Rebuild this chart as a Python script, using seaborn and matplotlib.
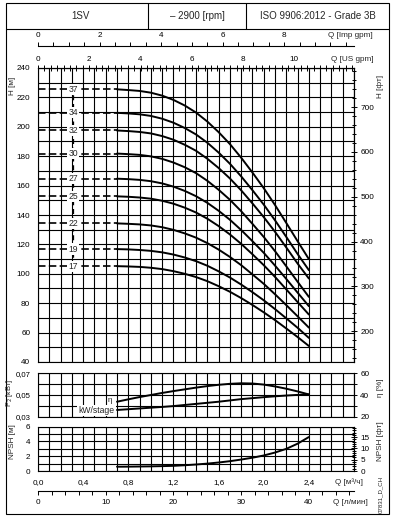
import matplotlib
matplotlib.use("Agg")
import matplotlib.pyplot as plt
import pandas as pd
import seaborn as sns
from matplotlib.lines import Line2D
from matplotlib.patches import Rectangle
from matplotlib.ticker import FixedLocator, FuncFormatter, MultipleLocator

# ---- data ----
FLOW_M3H = [0.7, 0.8, 0.9, 1.0, 1.1, 1.2, 1.3, 1.4, 1.5, 1.6, 1.7, 1.8, 1.9, 2.0, 2.1, 2.2, 2.3, 2.4]
STAGES = [37, 34, 32, 30, 27, 25, 22, 19, 17]
HEAD_SHUTOFF = [225.5, 209.5, 197.5, 181.8, 164.7, 152.7, 134.3, 116.8, 105.2]

HEAD_37 = [225.5, 225.0, 224.4, 223.2, 221.2, 218.3, 214.5, 209.7, 203.6,
           196.4, 188.3, 179.0, 168.9, 158.3, 146.8, 134.6, 122.2, 110.0]
HEAD_34 = [209.5, 209.1, 208.5, 207.4, 205.5, 202.8, 199.2, 194.8, 189.2,
           182.5, 174.9, 166.3, 156.9, 147.1, 136.4, 125.1, 113.5, 102.5]
HEAD_32 = [197.5, 197.1, 196.5, 195.5, 193.7, 191.2, 187.8, 183.7, 178.3,
           172.0, 164.9, 156.8, 147.9, 138.6, 128.6, 117.9, 107.0, 96.8]
HEAD_30 = [181.8, 181.4, 180.9, 179.9, 178.2, 175.7, 172.5, 168.5, 163.3,
           157.2, 150.4, 142.6, 134.0, 125.1, 115.4, 105.1, 94.6, 84.3]
HEAD_27 = [164.7, 164.4, 163.9, 163.0, 161.5, 159.3, 156.4, 152.8, 148.3,
           142.9, 136.8, 129.8, 122.2, 114.3, 105.6, 96.5, 87.2, 78.0]
HEAD_25 = [152.7, 152.4, 151.9, 151.1, 149.7, 147.7, 145.0, 141.7, 137.5,
           132.5, 126.8, 120.4, 113.3, 105.9, 97.9, 89.4, 80.8, 72.3]
HEAD_22 = [134.3, 134.0, 133.6, 132.9, 131.7, 129.9, 127.5, 124.6, 120.9,
           116.5, 111.5, 105.9, 99.6, 93.2, 86.1, 78.7, 71.1, 63.4]
HEAD_19 = [116.8, 116.6, 116.2, 115.6, 114.6, 113.1, 111.1, 108.6, 105.5,
           101.7, 97.5, 92.7, 87.5, 82.0, 76.0, 69.7, 63.3, 56.4]
HEAD_17 = [105.2, 105.0, 104.7, 104.1, 103.2, 101.8, 100.0, 97.8, 95.0,
           91.6, 87.8, 83.5, 78.8, 73.8, 68.5, 62.8, 57.0, 50.9]
HEADS = [HEAD_37, HEAD_34, HEAD_32, HEAD_30, HEAD_27, HEAD_25, HEAD_22, HEAD_19, HEAD_17]

EFFICIENCY = [33.8, 36.0, 38.1, 40.0, 41.9, 43.6, 45.2, 46.8, 48.2,
              49.4, 50.3, 50.8, 50.6, 49.6, 47.9, 45.8, 43.3, 40.5]
POWER_KW_STAGE = [0.0362, 0.0369, 0.0376, 0.0383, 0.0390, 0.0398, 0.0408, 0.0418, 0.0428,
                  0.0438, 0.0450, 0.0462, 0.0471, 0.0480, 0.0488, 0.0495, 0.0501, 0.0505]
NPSH_M = [0.58, 0.59, 0.61, 0.63, 0.66, 0.70, 0.78, 0.88, 1.00,
          1.15, 1.33, 1.55, 1.80, 2.10, 2.50, 3.00, 3.70, 4.60]

Q_TICKS = [0.0, 0.4, 0.8, 1.2, 1.6, 2.0, 2.4]
US_GPM_TICKS = [0, 2, 4, 6, 8, 10]
IMP_GPM_TICKS = [0, 2, 4, 6, 8]
LMIN_TICKS = [0, 10, 20, 30, 40]
H_FT_TICKS = [200, 300, 400, 500, 600, 700]
P_TICKS = [0.03, 0.05, 0.07]
ETA_TICKS = [20, 40, 60]
NPSH_TICKS = [0, 2, 4, 6]
NPSH_FT_TICKS = [0, 5, 10, 15]

M3H_TO_USGPM = 4.40287
M3H_TO_IMPGPM = 3.66615
M3H_TO_LMIN = 1000.0 / 60.0
M_TO_FT = 1.0 / 0.3048

# ---- layout ----
W, H = 395, 517
FS = 5.9
LABEL_Q = 0.31

sns.set_theme(style="white")
plt.rcParams["font.family"] = ["Liberation Sans", "DejaVu Sans"]
plt.rcParams["axes.edgecolor"] = "black"
plt.rcParams["axes.linewidth"] = 0.8
plt.rcParams["xtick.color"] = "black"
plt.rcParams["ytick.color"] = "black"

fig = plt.figure(figsize=(W / 100, H / 100), dpi=100)


def px_rect(x0, y0, x1, y1):
    return [x0 / W, 1 - y1 / H, (x1 - x0) / W, (y1 - y0) / H]


def fx(x):
    return x / W


def fy(y):
    return 1 - y / H


def comma(fmt):
    return FuncFormatter(lambda v, p: format(v, fmt).replace(".", ","))


# frame and header
fig.add_artist(Rectangle((fx(5.5), fy(513.5)), (389 - 5.5) / W, (513.5 - 3) / H,
                         transform=fig.transFigure, fill=False, ec="black", lw=0.8))
fig.add_artist(Line2D([fx(5.5), fx(389)], [fy(29), fy(29)], transform=fig.transFigure,
                      color="black", lw=0.8))
for xd in (148, 246):
    fig.add_artist(Line2D([fx(xd), fx(xd)], [fy(3), fy(29)], transform=fig.transFigure,
                          color="black", lw=0.8))
fig.text(fx(80), fy(16), "1SV", ha="center", va="center", fontsize=7)
fig.text(fx(197), fy(16), "– 2900 [rpm]", ha="center", va="center", fontsize=7)
fig.text(fx(317.5), fy(16), "ISO 9906:2012 - Grade 3B", ha="center", va="center", fontsize=7)

ax_h = fig.add_axes(px_rect(38, 68, 354, 362))
ax_p = fig.add_axes(px_rect(38, 373.3, 354, 416.7))
ax_n = fig.add_axes(px_rect(38, 426.7, 354, 471))

for ax in (ax_h, ax_p, ax_n):
    ax.set_xlim(0, 2.8)
    ax.xaxis.set_major_locator(FixedLocator(Q_TICKS))
    ax.xaxis.set_minor_locator(MultipleLocator(0.1))
    ax.set_axisbelow(True)
    ax.grid(which="both", color="black", lw=0.8)
    ax.tick_params(which="both", direction="inout", length=4, width=0.7, labelsize=FS, pad=3.5)
    ax.tick_params(axis="x", which="both", length=0)

# ---- head curves ----
df_head = pd.DataFrame(
    [(s, q, h) for s, hs in zip(STAGES, HEADS) for q, h in zip(FLOW_M3H, hs)],
    columns=["stages", "q", "h"],
)
sns.lineplot(data=df_head, x="q", y="h", units="stages", estimator=None, sort=False,
             color="black", lw=1.4, ax=ax_h)
ax_h.hlines(HEAD_SHUTOFF, 0, FLOW_M3H[0], colors="black", lw=1.2, linestyles=[(0, (4.5, 2))])
ax_h.vlines(LABEL_Q, min(HEAD_SHUTOFF), max(HEAD_SHUTOFF), colors="black", lw=0.9,
            linestyles=[(0, (4, 3))])
for s, h0 in zip(STAGES, HEAD_SHUTOFF):
    ax_h.text(LABEL_Q, h0, str(s), ha="center", va="center", fontsize=6.2,
              bbox=dict(facecolor="white", edgecolor="none", pad=0.8))
ax_h.set_ylim(40, 240)
ax_h.yaxis.set_major_locator(MultipleLocator(20))
ax_h.yaxis.set_minor_locator(MultipleLocator(10))
ax_h.tick_params(axis="x", labelbottom=False)
ax_h.set_xlabel("")
ax_h.set_ylabel("")

sec_hft = ax_h.secondary_yaxis("right", functions=(lambda m: m * M_TO_FT, lambda f: f / M_TO_FT))
sec_hft.yaxis.set_major_locator(FixedLocator(H_FT_TICKS))
sec_hft.yaxis.set_minor_locator(MultipleLocator(20))
sec_hft.tick_params(which="both", direction="inout", length=4, width=0.7, labelsize=FS, pad=2.5)
sec_hft.tick_params(which="minor", length=3)

sec_us = ax_h.secondary_xaxis("top", functions=(lambda q: q * M3H_TO_USGPM,
                                                lambda g: g / M3H_TO_USGPM))
sec_us.xaxis.set_major_locator(FixedLocator(US_GPM_TICKS))
sec_us.xaxis.set_minor_locator(MultipleLocator(0.25))
sec_us.tick_params(which="both", direction="inout", length=5, width=0.7, labelsize=FS, pad=1)
sec_us.tick_params(which="minor", length=4)

sec_imp = ax_h.secondary_xaxis(1.0765, functions=(lambda q: q * M3H_TO_IMPGPM,
                                                  lambda g: g / M3H_TO_IMPGPM))
sec_imp.xaxis.set_major_locator(FixedLocator(IMP_GPM_TICKS))
sec_imp.xaxis.set_minor_locator(MultipleLocator(0.5))
sec_imp.tick_params(which="both", direction="out", length=3, width=0.7, labelsize=FS, pad=2)
sec_imp.spines["top"].set_linewidth(0.8)

# ---- power / efficiency ----
df_perf = pd.DataFrame({
    "q": FLOW_M3H,
    "eta_as_p": [(e - 20) / 1000 + 0.03 for e in EFFICIENCY],
    "p": POWER_KW_STAGE,
})
sns.lineplot(data=df_perf, x="q", y="eta_as_p", color="black", lw=1.4, ax=ax_p)
sns.lineplot(data=df_perf, x="q", y="p", color="black", lw=1.4, ax=ax_p)
ax_p.set_ylim(0.03, 0.07)
ax_p.yaxis.set_major_locator(FixedLocator(P_TICKS))
ax_p.yaxis.set_minor_locator(MultipleLocator(0.01))
ax_p.yaxis.set_major_formatter(comma(".2f"))
ax_p.tick_params(axis="y", labelsize=5.6, pad=3)
ax_p.tick_params(axis="x", labelbottom=False)
ax_p.set_xlabel("")
ax_p.set_ylabel("")
ax_p.text(FLOW_M3H[0] - 0.04, df_perf["eta_as_p"][0] + 0.0015, "η", ha="right", va="center",
          fontsize=FS)
ax_p.text(FLOW_M3H[0] - 0.02, POWER_KW_STAGE[0] - 0.0007, "kW/stage", ha="right", va="center",
          fontsize=6.2, bbox=dict(facecolor="white", edgecolor="none", pad=0.8))

sec_eta = ax_p.secondary_yaxis("right", functions=(lambda p: (p - 0.03) * 1000 + 20,
                                                   lambda e: (e - 20) / 1000 + 0.03))
sec_eta.yaxis.set_major_locator(FixedLocator(ETA_TICKS))
sec_eta.yaxis.set_minor_locator(MultipleLocator(10))
sec_eta.tick_params(which="both", direction="inout", length=4, width=0.7, labelsize=FS, pad=2.5)

# ---- NPSH ----
sns.lineplot(x=FLOW_M3H, y=NPSH_M, color="black", lw=1.4, ax=ax_n)
ax_n.set_ylim(0, 6)
ax_n.yaxis.set_major_locator(FixedLocator(NPSH_TICKS))
ax_n.yaxis.set_minor_locator(MultipleLocator(1))
ax_n.xaxis.set_major_formatter(comma(".1f"))
ax_n.tick_params(axis="x", which="both", direction="inout", length=3, pad=4)

sec_nft = ax_n.secondary_yaxis("right", functions=(lambda m: m * M_TO_FT, lambda f: f / M_TO_FT))
sec_nft.yaxis.set_major_locator(FixedLocator(NPSH_FT_TICKS))
sec_nft.yaxis.set_minor_locator(MultipleLocator(1))
sec_nft.tick_params(which="both", direction="inout", length=4, width=0.7, labelsize=FS, pad=2.5)
sec_nft.tick_params(which="minor", length=2.5)

sec_l = ax_n.secondary_xaxis(-0.451, functions=(lambda q: q * M3H_TO_LMIN,
                                                lambda l: l / M3H_TO_LMIN))
sec_l.xaxis.set_major_locator(FixedLocator(LMIN_TICKS))
sec_l.xaxis.set_minor_locator(MultipleLocator(2))
sec_l.tick_params(which="both", direction="out", length=3, width=0.7, labelsize=FS, pad=3)
sec_l.spines["bottom"].set_linewidth(0.8)

# ---- axis titles ----
side = dict(rotation=90, ha="center", va="center", fontsize=FS)
fig.text(fx(12), fy(86), "H [м]", **side)
fig.text(fx(9.5), fy(393), "P$_2$ [кВт]", rotation=90, ha="center", va="center", fontsize=5.4)
fig.text(fx(12), fy(442), "NPSH [м]", **side)
fig.text(fx(380), fy(86), "H [фт]", **side)
fig.text(fx(380), fy(388), "η [%]", **side)
fig.text(fx(380), fy(441), "NPSH [фт]", **side)
fig.text(fx(381), fy(494), "07831_D_CH", rotation=90, ha="center", va="center", fontsize=4.4)

fig.text(fx(350), fy(35.5), "Q [Imp gpm]", ha="center", va="center", fontsize=FS)
fig.text(fx(352), fy(59.5), "Q [US gpm]", ha="center", va="center", fontsize=FS)
fig.text(fx(349), fy(482), "Q [м³/ч]", ha="center", va="center", fontsize=FS)
fig.text(fx(350), fy(503), "Q [л/мин]", ha="center", va="center", fontsize=FS)

fig.savefig("out.png", dpi=100, facecolor="white")
